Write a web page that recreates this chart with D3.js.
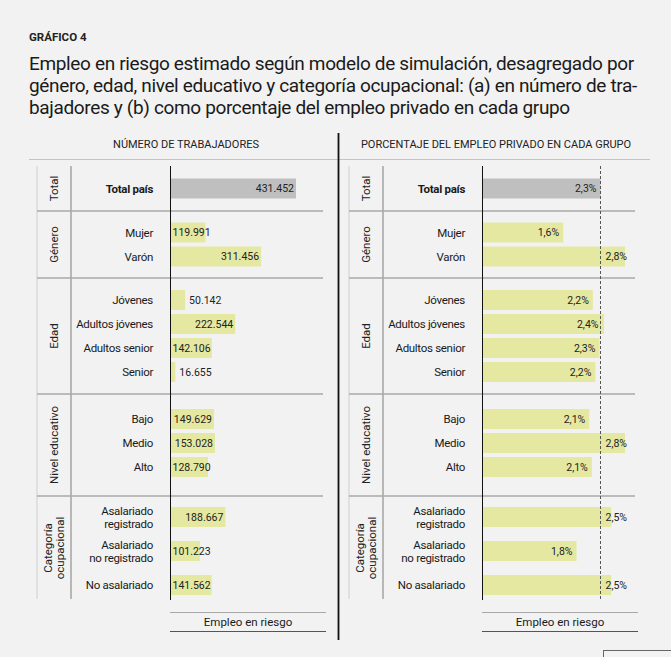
<!DOCTYPE html>
<html>
<head>
<meta charset="utf-8">
<script src="https://cdn.jsdelivr.net/npm/d3@7"></script>
<style>
  html, body { margin: 0; padding: 0; background: #f2f2f2; }
  svg { display: block; font-family: Roboto, sans-serif; }
</style>
</head>
<body>
<div id="chart"></div>
<script>
// data
var groups = ["Total", "Género", "Edad", "Nivel educativo", "Categoría\nocupacional"];
var groupOfRow = [0, 1, 1, 2, 2, 2, 2, 3, 3, 3, 4, 4, 4];
var categories = ["Total país", "Mujer", "Varón", "Jóvenes", "Adultos jóvenes", "Adultos senior", "Senior",
  "Bajo", "Medio", "Alto", "Asalariado\nregistrado", "Asalariado\nno registrado", "No asalariado"];
var workers = [431452, 119991, 311456, 50142, 222544, 142106, 16655, 149629, 153028, 128790, 188667, 101223, 141562];
var shares = [2.31, 1.58, 2.79, 2.16, 2.38, 2.29, 2.21, 2.09, 2.79, 2.14, 2.52, 1.84, 2.52];
var totalShare = shares[0];

var svgWidth = 671;
var svgHeight = 657;

// layout of the row groups
var tableTop = 166;
var groupHeight = [45, 67, 116, 102, 104];
var rowStep = [24, 24, 24, 24, 34];
var groupShift = [0, 0, 0, -2, 3];
var barH = 20;

var svg = d3.select("#chart")
  .append("svg")
  .attr("width", svgWidth)
  .attr("height", svgHeight);

// title
svg.append("text")
  .attr("x", 29).attr("y", 41)
  .style("font-size", "11.5px")
  .style("font-weight", 700)
  .attr("fill", "#222")
  .text("GRÁFICO 4");

var titleLines = [
  "Empleo en riesgo estimado según modelo de simulación, desagregado por",
  "género, edad, nivel educativo y categoría ocupacional: (a) en número de tra-",
  "bajadores y (b) como porcentaje del empleo privado en cada grupo"
];
svg.append("g").selectAll("text")
  .data(titleLines)
  .enter()
  .append("text")
  .attr("x", 29)
  .attr("y", (d, i) => 70 + i * 22)
  .style("font-size", "19px")
  .style("letter-spacing", "-0.35px")
  .attr("fill", "#1a1a1a")
  .text(d => d);

// header rule and panel divider
svg.append("line")
  .attr("x1", 29).attr("x2", 650).attr("y1", 159.5).attr("y2", 159.5)
  .attr("stroke", "#c4c4c4").attr("stroke-width", 1);
svg.append("line")
  .attr("x1", 338.5).attr("x2", 338.5).attr("y1", 133).attr("y2", 640)
  .attr("stroke", "#111").attr("stroke-width", 1.8);

// group boundaries
var groupTops = [];
var acc = tableTop;
groupHeight.forEach(function(h) { groupTops.push(acc); acc += h; });
var tableBottom = acc;

// row centres, one band scale per group
var rowY = categories.map(function() { return 0; });
groups.forEach(function(g, gi) {
  var rows = d3.range(categories.length).filter(i => groupOfRow[i] === gi);
  var step = rowStep[gi];
  var c = groupTops[gi] + groupHeight[gi] / 2 + groupShift[gi];
  var pi = 1 - barH / step;
  var band = d3.scaleBand()
    .domain(rows)
    .range([c - rows.length * step / 2, c + rows.length * step / 2])
    .paddingInner(pi)
    .paddingOuter(pi / 2);
  rows.forEach(function(r) { rowY[r] = band(r) + band.bandwidth() / 2; });
});

function drawPanel(ox, header, headerX, values, xScale, labelFn) {
  var p = svg.append("g").attr("transform", `translate(${ox},0)`);
  var zero = xScale(0);

  p.append("text")
    .attr("x", headerX).attr("y", 148)
    .attr("text-anchor", "middle")
    .style("font-size", "11px")
    .attr("fill", "#222")
    .text(header);

  // group column lines
  p.append("line")
    .attr("x1", 37).attr("x2", 37).attr("y1", tableTop).attr("y2", tableBottom - 1)
    .attr("stroke", "#cfcfcf").attr("stroke-width", 1);
  p.append("line")
    .attr("x1", 71).attr("x2", 71).attr("y1", tableTop).attr("y2", tableBottom - 1)
    .attr("stroke", "#a8a8a8").attr("stroke-width", 1.6);

  // group separators
  p.selectAll(".sep")
    .data(groupTops.slice(1))
    .enter()
    .append("line")
    .attr("class", "sep")
    .attr("x1", 37).attr("x2", 323)
    .attr("y1", d => d).attr("y2", d => d)
    .attr("stroke", "#a8a8a8").attr("stroke-width", 1.5);

  // group labels
  groups.forEach(function(g, gi) {
    var lines = g.split("\n");
    var cy = groupTops[gi] + groupHeight[gi] / 2;
    var t = p.append("text")
      .attr("transform", `translate(54,${cy}) rotate(-90)`)
      .attr("text-anchor", "middle")
      .style("font-size", "11.5px")
      .attr("fill", "#222");
    lines.forEach(function(l, li) {
      t.append("tspan")
        .attr("x", 0)
        .attr("y", (li - (lines.length - 1) / 2) * 12 + 4)
        .text(l);
    });
  });

  // bars
  p.selectAll(".bar")
    .data(values)
    .enter()
    .append("rect")
    .attr("class", "bar")
    .attr("x", zero)
    .attr("y", (d, i) => rowY[i] - barH / 2)
    .attr("width", d => xScale(d) - zero)
    .attr("height", barH)
    .attr("fill", (d, i) => i === 0 ? "#bfbfbf" : "#e5e8a1");

  // axis line
  p.append("line")
    .attr("x1", zero).attr("x2", zero).attr("y1", tableTop).attr("y2", tableBottom)
    .attr("stroke", "#111").attr("stroke-width", 1);

  // row labels
  categories.forEach(function(c, i) {
    var lines = c.split("\n");
    var t = p.append("text")
      .attr("text-anchor", "end")
      .style("font-size", "11.5px")
      .style("letter-spacing", "-0.3px")
      .style("font-weight", i === 0 ? 700 : 400)
      .attr("fill", "#1a1a1a");
    lines.forEach(function(l, li) {
      t.append("tspan")
        .attr("x", 153)
        .attr("y", rowY[i] + 4 + (li - (lines.length - 1) / 2) * 13)
        .text(l);
    });
  });

  // value labels
  p.selectAll(".val")
    .data(values)
    .enter()
    .append("text")
    .attr("class", "val")
    .attr("y", (d, i) => rowY[i] + 3.5)
    .style("font-size", "10.5px")
    .attr("fill", "#222")
    .text(d => labelFn.format(d))
    .each(function(d) {
      var tw = this.getComputedTextLength();
      d3.select(this).attr("x", labelFn.place(d, tw, xScale(d), zero));
    });

  // footer
  var fx0 = zero - 0.5, fx1 = zero + 155.5;
  p.append("line").attr("x1", fx0).attr("x2", fx1).attr("y1", 612.5).attr("y2", 612.5)
    .attr("stroke", "#a8a8a8").attr("stroke-width", 1);
  p.append("line").attr("x1", fx0).attr("x2", fx1).attr("y1", 631.5).attr("y2", 631.5)
    .attr("stroke", "#555").attr("stroke-width", 1);
  p.append("text")
    .attr("x", (fx0 + fx1) / 2).attr("y", 626)
    .attr("text-anchor", "middle")
    .style("font-size", "11.5px")
    .attr("fill", "#1a1a1a")
    .text("Empleo en riesgo");

  return p;
}

// panel (a): number of workers
var xWorkers = d3.scaleLinear().domain([0, 431452]).range([170.5, 296]);
var fmtWorkers = d3.formatLocale({ decimal: ",", thousands: ".", grouping: [3], currency: ["$", ""] }).format(",.0f");
drawPanel(0, "NÚMERO DE TRABAJADORES", 186, workers, xWorkers, {
  format: fmtWorkers,
  place: function(d, tw, end, zero) {
    if (end - zero < 20) return end + 4;
    return Math.max(end - 2 - tw, zero + 2);
  }
});

// panel (b): share of private employment
var xShare = d3.scaleLinear().domain([0, totalShare]).range([170.5, 288.5]);
var fmtShare = d => d3.format(".1f")(d).replace(".", ",") + "%";
var refX = xShare(totalShare);
var right = drawPanel(312, "PORCENTAJE DEL EMPLEO PRIVADO EN CADA GRUPO", 184, shares, xShare, {
  format: fmtShare,
  place: function(d, tw, end, zero) {
    if (end > refX + 8) return refX + 5;
    return Math.min(end - 4, refX - 2) - tw;
  }
});

// dashed reference line at the country total
right.append("line")
  .attr("x1", refX).attr("x2", refX)
  .attr("y1", tableTop).attr("y2", tableBottom)
  .attr("stroke", "#555").attr("stroke-width", 1)
  .attr("stroke-dasharray", "3,2");

// cropped box at the bottom right
svg.append("rect")
  .attr("x", 603.5).attr("y", 650.5).attr("width", 80).attr("height", 20)
  .attr("fill", "none").attr("stroke", "#666").attr("stroke-width", 1);
</script>
</body>
</html>
